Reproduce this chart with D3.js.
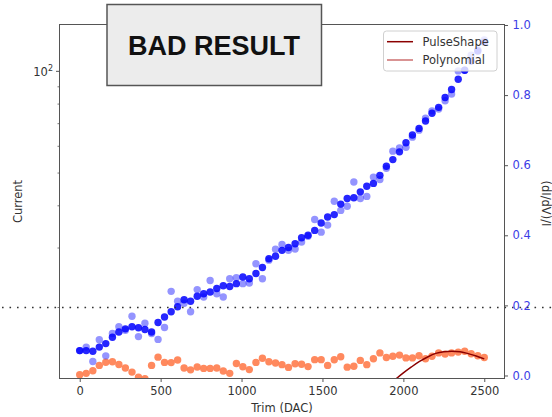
<!DOCTYPE html>
<html>
<head>
<meta charset="utf-8">
<script src="https://cdn.jsdelivr.net/npm/d3@7"></script>
<style>
  body { margin: 0; background: #fff; }
  svg { display: block; font-family: "DejaVu Sans", sans-serif; }
</style>
</head>
<body>
<svg id="chart" width="552" height="417"></svg>
<script>
// Trim DAC settings of the scan
const trims = [0, 40, 81, 121, 161, 202, 242, 282, 323, 363, 403, 444, 484, 524, 565, 605,
  645, 685, 726, 766, 806, 847, 887, 927, 968, 1008, 1048, 1089, 1129, 1169, 1210, 1250,
  1290, 1331, 1371, 1411, 1452, 1492, 1532, 1573, 1613, 1653, 1694, 1734, 1774, 1815, 1855,
  1895, 1935, 1976, 2016, 2056, 2097, 2137, 2177, 2218, 2258, 2298, 2339, 2379, 2419, 2460, 2500];

// (dI/dV)/I, main pass
const ratioMain = [0.071, 0.071, 0.069, 0.081, 0.091, 0.109, 0.124, 0.133, 0.139, 0.136,
  0.131, 0.124, 0.151, 0.167, 0.182, 0.196, 0.216, 0.212, 0.226, 0.233, 0.238, 0.248,
  0.256, 0.254, 0.262, 0.281, 0.276, 0.291, 0.308, 0.333, 0.340, 0.357, 0.365, 0.376,
  0.393, 0.400, 0.414, 0.435, 0.452, 0.459, 0.489, 0.505, 0.507, 0.524, 0.540, 0.548,
  0.571, 0.597, 0.616, 0.638, 0.664, 0.686, 0.705, 0.726, 0.748, 0.765, 0.793, 0.816,
  0.845, 0.871, 0.897, 0.926, 0.951];

// (dI/dV)/I, repeat pass
const ratioRepeat = [0.071, 0.081, 0.040, 0.102, 0.056, 0.120, 0.139, 0.129, 0.169, 0.111,
  0.149, 0.120, 0.103, 0.137, 0.240, 0.212, 0.206, 0.182, 0.245, 0.224, 0.271, 0.233,
  0.224, 0.276, 0.279, 0.262, 0.264, 0.319, 0.276, 0.329, 0.360, 0.374, 0.357, 0.361,
  0.381, 0.397, 0.445, 0.409, 0.429, 0.497, 0.471, 0.483, 0.552, 0.505, 0.511, 0.566,
  0.559, 0.591, 0.640, 0.649, 0.651, 0.680, 0.700, 0.734, 0.755, 0.760, 0.784, 0.803,
  0.869, 0.871, 0.914, 0.929, 0.957];

// Measured current
const current = [12.65, 12.77, 13.00, 13.48, 13.78, 13.82, 13.57, 13.25, 12.88, 12.45,
  12.31, 13.48, 14.26, 13.76, 13.74, 13.99, 13.25, 13.08, 13.34, 13.21, 13.21, 13.25,
  12.98, 12.77, 13.66, 13.36, 13.10, 13.76, 14.16, 13.82, 13.71, 13.55, 13.30, 13.64,
  13.59, 13.37, 14.02, 14.02, 13.48, 14.01, 14.30, 13.32, 13.40, 13.95, 13.55, 14.11,
  14.68, 14.23, 14.35, 14.46, 14.19, 14.19, 14.40, 14.11, 14.35, 14.68, 14.56, 14.68,
  14.76, 14.85, 14.60, 14.40, 14.23];

// PulseShape fit of the current
const fitTrims = [1900, 1950, 2000, 2050, 2100, 2150, 2200, 2250, 2300, 2350, 2400, 2450, 2500];
const pulseShapeFit = [11.68, 12.25, 12.81, 13.34, 13.85, 14.28, 14.63, 14.80, 14.85, 14.80, 14.61, 14.38, 14.09];

const xTicks = [0, 500, 1000, 1500, 2000, 2500];
const ratioTicks = [0.0, 0.2, 0.4, 0.6, 0.8, 1.0];
const currentMajorTicks = [100];
const currentMinorTicks = [20, 30, 40, 50, 60, 70, 80, 90];
const currentThreshold = 20;
const legendLabels = ["PulseShape", "Polynomial"];
const legendColors = ["#8b0000", "#cd6f6f"];

const svg = d3.select("#chart");
const L = 59.5, R = 504.5, T = 24.5, B = 378.5;

const x = d3.scaleLinear().domain([-125, 2625]).range([L, R]);
const yRatio = d3.scaleLinear().domain([-0.0086, 1.0014]).range([B, T]);
const yCur = d3.scaleLog().domain([12.33, 137.6]).range([B, T]);

svg.append("defs").append("clipPath").attr("id", "plotClip")
  .append("rect").attr("x", L).attr("y", T).attr("width", R - L).attr("height", B - T);

const plot = svg.append("g").attr("clip-path", "url(#plotClip)");
const dotR = 3.7;

// current (left axis)
plot.append("g").selectAll("circle").data(trims).join("circle")
  .attr("cx", d => x(d)).attr("cy", (d, i) => yCur(current[i]))
  .attr("r", dotR).attr("fill", "#ff7f50").attr("fill-opacity", 0.92);

// ratio repeat pass and main pass (right axis)
plot.append("g").selectAll("circle").data(trims).join("circle")
  .attr("cx", d => x(d)).attr("cy", (d, i) => yRatio(ratioRepeat[i]))
  .attr("r", dotR).attr("fill", "#0000ff").attr("fill-opacity", 0.42);
plot.append("g").selectAll("circle").data(trims).join("circle")
  .attr("cx", d => x(d)).attr("cy", (d, i) => yRatio(ratioMain[i]))
  .attr("r", dotR).attr("fill", "#0000ff").attr("fill-opacity", 0.85);

// PulseShape fit
plot.append("path")
  .datum(fitTrims.map((t, i) => [t, pulseShapeFit[i]]))
  .attr("d", d3.line().x(d => x(d[0])).y(d => yCur(d[1])).curve(d3.curveMonotoneX))
  .attr("fill", "none").attr("stroke", legendColors[0]).attr("stroke-width", 1.5);

// threshold line across the figure
svg.append("line")
  .attr("x1", 2).attr("x2", 552)
  .attr("y1", yCur(currentThreshold)).attr("y2", yCur(currentThreshold))
  .attr("stroke", "#333").attr("stroke-width", 1.6)
  .attr("stroke-dasharray", "1.6,5.9");

// spines
const spine = "#555";
svg.append("rect").attr("x", L).attr("y", T).attr("width", R - L).attr("height", B - T)
  .attr("fill", "none").attr("stroke", spine).attr("stroke-width", 1);

const fs = "11.5px";

// x axis
const xAxis = svg.append("g").attr("transform", `translate(0,${B})`)
  .call(d3.axisBottom(x).tickValues(xTicks).tickSize(3.5).tickPadding(5).tickFormat(d3.format("d")));
xAxis.select(".domain").remove();
xAxis.selectAll("line").attr("stroke", spine);
xAxis.selectAll("text").attr("font-size", fs).attr("fill", "#333").attr("font-family", "DejaVu Sans");

// right axis
const rAxis = svg.append("g").attr("transform", `translate(${R},0)`)
  .call(d3.axisRight(yRatio).tickValues(ratioTicks).tickSize(3.5).tickPadding(4.5).tickFormat(d3.format(".1f")));
rAxis.select(".domain").remove();
rAxis.selectAll("line").attr("stroke", spine);
rAxis.selectAll("text").attr("font-size", fs).attr("fill", "#3c3ce6").attr("font-family", "DejaVu Sans");

// left log axis
const lAxis = svg.append("g");
lAxis.selectAll("line.minor").data(currentMinorTicks).join("line").attr("class", "minor")
  .attr("x1", L - 2).attr("x2", L).attr("y1", d => yCur(d)).attr("y2", d => yCur(d))
  .attr("stroke", spine).attr("stroke-width", 0.8);
lAxis.selectAll("line.major").data(currentMajorTicks).join("line").attr("class", "major")
  .attr("x1", L - 3.5).attr("x2", L).attr("y1", d => yCur(d)).attr("y2", d => yCur(d))
  .attr("stroke", spine);
const lbl = lAxis.selectAll("text").data(currentMajorTicks).join("text")
  .attr("x", L - 6.5).attr("y", d => yCur(d) + 4.5)
  .attr("text-anchor", "end").attr("font-size", fs).attr("fill", "#333");
lbl.append("tspan").text("10");
lbl.append("tspan").attr("font-size", "8px").attr("dy", -4.5).text(d => String(Math.round(Math.log10(d))));

// axis titles
svg.append("text").attr("x", (L + R) / 2).attr("y", 412)
  .attr("text-anchor", "middle").attr("font-size", fs).attr("fill", "#333").text("Trim (DAC)");
svg.append("text").attr("transform", `translate(22,${(T + B) / 2}) rotate(-90)`)
  .attr("text-anchor", "middle").attr("font-size", fs).attr("fill", "#333").text("Current");
svg.append("text").attr("transform", `translate(541.5,${(T + B) / 2 + 2}) rotate(90)`)
  .attr("text-anchor", "middle").attr("font-size", fs).attr("fill", "#333").text("(dI/dV)/I");

// legend
const lg = svg.append("g");
lg.append("rect").attr("x", 383.5).attr("y", 31).attr("width", 113.5).attr("height", 40).attr("rx", 3)
  .attr("fill", "#fff").attr("fill-opacity", 0.8).attr("stroke", "#d0d0d0");
legendLabels.forEach((name, i) => {
  const yy = 41.7 + i * 18.3;
  lg.append("line").attr("x1", 387).attr("x2", 413).attr("y1", yy).attr("y2", yy)
    .attr("stroke", legendColors[i]).attr("stroke-width", 1.5);
  lg.append("text").attr("x", 422.5).attr("y", yy + 4.2).attr("font-size", fs).attr("fill", "#333").text(name);
});

// status stamp
svg.append("rect").attr("x", 107).attr("y", 4.5).attr("width", 214.5).attr("height", 81)
  .attr("fill", "#ececec").attr("stroke", "#555").attr("stroke-width", 1.5);
svg.append("text").attr("x", 214).attr("y", 55)
  .attr("text-anchor", "middle")
  .style("font-family", "'Liberation Sans', Arial, sans-serif")
  .style("font-weight", "bold").style("font-size", "27px")
  .attr("fill", "#111").text("BAD RESULT");
</script>
</body>
</html>
